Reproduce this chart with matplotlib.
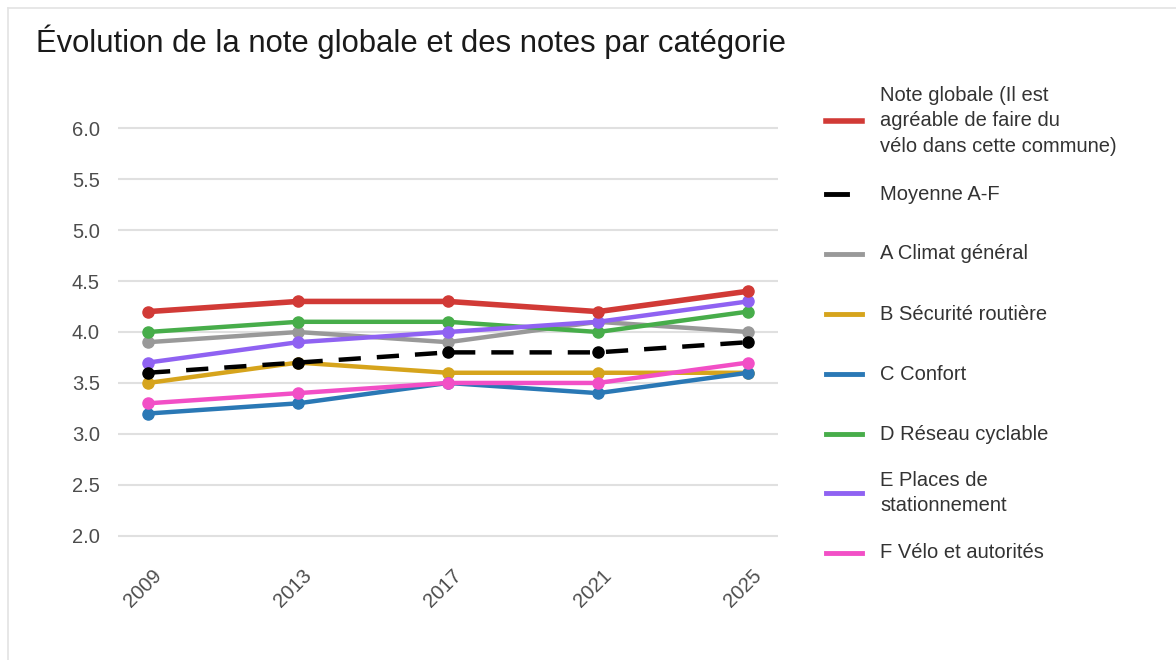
import matplotlib
matplotlib.use("Agg")
import matplotlib.pyplot as plt
from matplotlib.lines import Line2D
from matplotlib.transforms import ScaledTranslation

plt.rcParams['font.family'] = ['Liberation Sans', 'DejaVu Sans']

years = [2009, 2013, 2017, 2021, 2025]
note_globale = [4.2, 4.3, 4.3, 4.2, 4.4]
moyenne_af = [3.6, 3.7, 3.8, 3.8, 3.9]
a_climat = [3.9, 4.0, 3.9, 4.1, 4.0]
b_securite = [3.5, 3.7, 3.6, 3.6, 3.6]
c_confort = [3.2, 3.3, 3.5, 3.4, 3.6]
d_reseau = [4.0, 4.1, 4.1, 4.0, 4.2]
e_places = [3.7, 3.9, 4.0, 4.1, 4.3]
f_velo = [3.3, 3.4, 3.5, 3.5, 3.7]

labels = [
    "Note globale (Il est\nagréable de faire du\nvélo dans cette commune)",
    "Moyenne A-F",
    "A Climat général",
    "B Sécurité routière",
    "C Confort",
    "D Réseau cyclable",
    "E Places de\nstationnement",
    "F Vélo et autorités",
]
yticks = [2.0, 2.5, 3.0, 3.5, 4.0, 4.5, 5.0, 5.5, 6.0]

colors = ["#d13a36", "#000000", "#999999", "#d6a41c", "#2a78b5",
          "#47ad4a", "#8f62f2", "#f24fc6"]

W, H = 1176, 660
fig = plt.figure(figsize=(W / 100, H / 100), dpi=100)
fig.patch.set_facecolor("white")

# light border of the screenshot
fig.add_artist(Line2D([8 / W, 8 / W], [0, 1 - 8 / H], color="#e3e3e3", lw=1.2))
fig.add_artist(Line2D([8 / W, 1], [1 - 8 / H, 1 - 8 / H], color="#e3e3e3", lw=1.2))

left, right, top, bottom = 118, 778, 118, 546
ax = fig.add_axes([left / W, 1 - bottom / H, (right - left) / W, (bottom - top) / H])
ax.set_xlim(2008.2, 2025.8)
ax.set_ylim(1.9, 6.1)
for s in ax.spines.values():
    s.set_visible(False)
ax.set_yticks(yticks)
ax.set_yticklabels([f"{v:.1f}" for v in yticks])
ax.set_xticks(years)
ax.set_xticklabels([str(y) for y in years])
ax.tick_params(axis="both", length=0, labelsize=14.5, labelcolor="#4d4d4d")
ax.tick_params(axis="y", pad=13)
ax.tick_params(axis="x", pad=19)
ax.grid(axis="y", color="#e0e0e0", lw=1.5)
ax.set_axisbelow(True)
off = ScaledTranslation(11 / 100, 0, fig.dpi_scale_trans)
for lab in ax.get_xticklabels():
    lab.set_rotation(45)
    lab.set_ha("right")
    lab.set_va("center")
    lab.set_rotation_mode("anchor")
    lab.set_transform(lab.get_transform() + off)

series = [note_globale, moyenne_af, a_climat, b_securite, c_confort,
          d_reseau, e_places, f_velo]
order = [2, 3, 4, 5, 6, 7, 1, 0]
for i in order:
    vals = series[i]
    if i == 1:
        ax.plot(years, vals, color=colors[i], lw=3.2, ls=(0, (5, 3.6)),
                marker="o", ms=8, zorder=3)
    else:
        ax.plot(years, vals, color=colors[i], lw=4.0 if i == 0 else 3.2,
                marker="o", ms=8, zorder=3)

fig.text(36 / W, 1 - 42 / H, "Évolution de la note globale et des notes par catégorie",
         fontsize=22.3, color="#1a1a1a", va="center", ha="left")

centers = [121, 194, 254, 314, 374, 434, 493, 553]
for i, (lab, yc) in enumerate(zip(labels, centers)):
    yf = 1 - yc / H
    if i == 1:
        fig.add_artist(Line2D([826 / W, 847 / W], [yf, yf], color=colors[i], lw=3.5))
    else:
        fig.add_artist(Line2D([826 / W, 862 / W], [yf, yf], color=colors[i],
                              lw=4 if i == 0 else 3.5))
    fig.text(880 / W, yf, lab, fontsize=14.5, color="#333333", va="center",
             ha="left", linespacing=1.45)

fig.savefig("out.png", dpi=100, facecolor="white")
